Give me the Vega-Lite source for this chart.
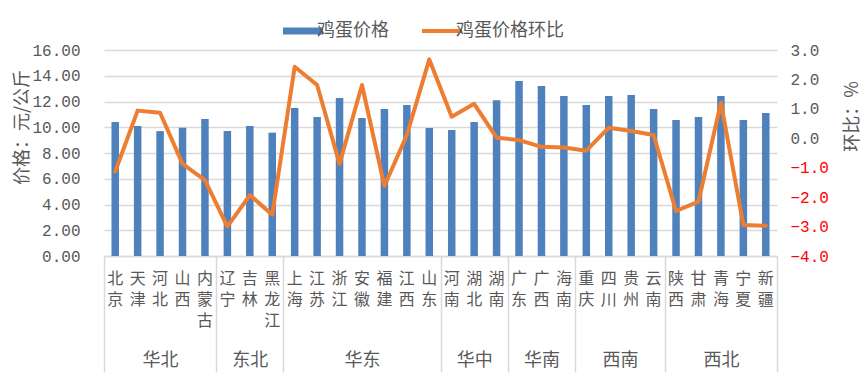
{
  "$schema": "https://vega.github.io/schema/vega-lite/v6.json",
  "width": 673,
  "height": 206,
  "autosize": "none",
  "padding": {"left": 104, "top": 50, "right": 90, "bottom": 133},
  "background": "white",
  "config": {"view": {"stroke": null}, "font": "Noto Sans CJK SC"},
  "data": {
    "values": [
      {"province": "北京", "region": "华北", "price": 10.4, "mom": -1.13},
      {"province": "天津", "region": "华北", "price": 10.1, "mom": 0.94},
      {"province": "河北", "region": "华北", "price": 9.7, "mom": 0.87},
      {"province": "山西", "region": "华北", "price": 9.97, "mom": -0.87},
      {"province": "内蒙古", "region": "华北", "price": 10.64, "mom": -1.42},
      {"province": "辽宁", "region": "东北", "price": 9.7, "mom": -3.0},
      {"province": "吉林", "region": "东北", "price": 10.1, "mom": -1.93},
      {"province": "黑龙江", "region": "东北", "price": 9.58, "mom": -2.6},
      {"province": "上海", "region": "华东", "price": 11.5, "mom": 2.43},
      {"province": "江苏", "region": "华东", "price": 10.8, "mom": 1.81},
      {"province": "浙江", "region": "华东", "price": 12.27, "mom": -0.87},
      {"province": "安徽", "region": "华东", "price": 10.72, "mom": 1.81},
      {"province": "福建", "region": "华东", "price": 11.42, "mom": -1.62},
      {"province": "江西", "region": "华东", "price": 11.73, "mom": 0.11},
      {"province": "山东", "region": "华东", "price": 9.94, "mom": 2.68},
      {"province": "河南", "region": "华中", "price": 9.79, "mom": 0.73},
      {"province": "湖北", "region": "华中", "price": 10.4, "mom": 1.17},
      {"province": "湖南", "region": "华中", "price": 12.1, "mom": 0.02},
      {"province": "广东", "region": "华南", "price": 13.6, "mom": -0.06},
      {"province": "广西", "region": "华南", "price": 13.2, "mom": -0.29},
      {"province": "海南", "region": "华南", "price": 12.43, "mom": -0.31},
      {"province": "重庆", "region": "西南", "price": 11.73, "mom": -0.42},
      {"province": "四川", "region": "西南", "price": 12.43, "mom": 0.36},
      {"province": "贵州", "region": "西南", "price": 12.5, "mom": 0.25},
      {"province": "云南", "region": "西南", "price": 11.42, "mom": 0.11},
      {"province": "陕西", "region": "西北", "price": 10.56, "mom": -2.47},
      {"province": "甘肃", "region": "西北", "price": 10.8, "mom": -2.15},
      {"province": "青海", "region": "西北", "price": 12.43, "mom": 1.21},
      {"province": "宁夏", "region": "西北", "price": 10.56, "mom": -2.95},
      {"province": "新疆", "region": "西北", "price": 11.1, "mom": -2.97}
    ]
  },
  "layer": [
    {
      "mark": {"type": "bar", "width": 7.5},
      "encoding": {
        "x": {
          "field": "province", "type": "nominal", "sort": null,
          "scale": {"paddingInner": 0, "paddingOuter": 0},
          "axis": {
            "orient": "bottom",
            "title": null, "ticks": false, "grid": false,
            "domain": true, "domainColor": "#D9D9D9", "domainWidth": 1.5,
            "labelAngle": 0, "labelExpr": "split(datum.label, '')",
            "labelFont": "Noto Sans CJK SC", "labelFontSize": 16, "labelColor": "#595959",
            "labelLineHeight": 21, "labelPadding": 14, "labelBaseline": "top"
          }
        },
        "y": {
          "field": "price", "type": "quantitative",
          "scale": {"domain": [0, 16]},
          "axis": {
            "title": "价格：元/公斤", "titleFont": "Noto Sans CJK SC", "titleFontSize": 18,
            "titleFontWeight": "normal", "titleColor": "#595959",
            "titleAngle": 270, "titleX": -82, "titleY": 77, "titleAlign": "center", "titleBaseline": "middle",
            "values": [0, 2, 4, 6, 8, 10, 12, 14, 16], "format": ".2f",
            "labelFont": "Liberation Mono", "labelFontSize": 16, "labelColor": "#595959",
            "labelPadding": 24, "ticks": false, "domain": false,
            "grid": true, "gridColor": "#D9D9D9", "gridWidth": 1.5
          }
        },
        "color": {
          "datum": "鸡蛋价格",
          "scale": {"domain": ["鸡蛋价格", "鸡蛋价格环比"], "range": ["#4F81BD", "#ED7D31"]},
          "legend": {
            "title": null, "orient": "none", "direction": "horizontal",
            "legendX": 190, "legendY": -28,
            "symbolSize": 1600, "labelFont": "Noto Sans CJK SC", "labelFontSize": 18,
            "labelColor": "#595959", "labelOffset": 5, "columnPadding": 25,
            "encode": {
              "symbols": {
                "update": {
                  "shape": {"signal": "datum.value == '鸡蛋价格' ? 'M-1,-0.18H1V0.18H-1Z' : 'M-1,0H1'"},
                  "fill": {"signal": "datum.value == '鸡蛋价格' ? '#4F81BD' : 'transparent'"},
                  "stroke": {"signal": "datum.value == '鸡蛋价格' ? 'transparent' : '#ED7D31'"},
                  "strokeWidth": {"signal": "datum.value == '鸡蛋价格' ? 0 : 4"},
                  "opacity": {"value": 1}
                }
              }
            }
          }
        }
      }
    },
    {
      "mark": {"type": "line", "strokeWidth": 4, "strokeJoin": "round", "strokeCap": "round"},
      "encoding": {
        "x": {
          "field": "province", "type": "nominal", "sort": null,
          "axis": {
            "orient": "bottom",
            "title": null, "domain": false, "grid": false,
            "tickBand": "extent", "tickSize": 116, "tickColor": "#D9D9D9", "tickWidth": 1.5,
            "tickOpacity": {
              "condition": {"test": "datum.extra || indexof(['内蒙古','黑龙江','山东','湖南','海南','云南','新疆'], datum.value) >= 0", "value": 1},
              "value": 0
            },
            "labelAngle": 0,
            "labelExpr": "datum.value == '河北' ? '华北' : datum.value == '吉林' ? '东北' : datum.value == '安徽' ? '华东' : datum.value == '湖北' ? '华中' : datum.value == '广西' ? '华南' : datum.value == '四川' ? '西南' : datum.value == '青海' ? '西北' : ''",
            "labelOffset": {"condition": {"test": "datum.value == '四川'", "value": 11.2}, "value": 0},
            "labelFont": "Noto Sans CJK SC", "labelFontSize": 18, "labelColor": "#595959",
            "labelBaseline": "middle", "labelPadding": -12
          }
        },
        "y": {
          "field": "mom", "type": "quantitative",
          "scale": {"domain": [-4, 3]},
          "axis": {
            "orient": "right",
            "title": "环比：%", "titleFont": "Noto Sans CJK SC", "titleFontSize": 18,
            "titleFontWeight": "normal", "titleColor": "#595959",
            "titleAngle": 270, "titleX": 75, "titleY": 66, "titleAlign": "center", "titleBaseline": "middle",
            "values": [-4, -3, -2, -1, 0, 1, 2, 3], "format": ".1f",
            "labelFont": "Liberation Mono", "labelFontSize": 16,
            "labelColor": {"condition": {"test": "datum.value < 0", "value": "#FF0000"}, "value": "#595959"},
            "labelPadding": 13, "ticks": false, "domain": false, "grid": false
          }
        },
        "color": {"datum": "鸡蛋价格环比"}
      }
    }
  ],
  "resolve": {"scale": {"y": "independent"}, "axis": {"x": "independent"}}
}
